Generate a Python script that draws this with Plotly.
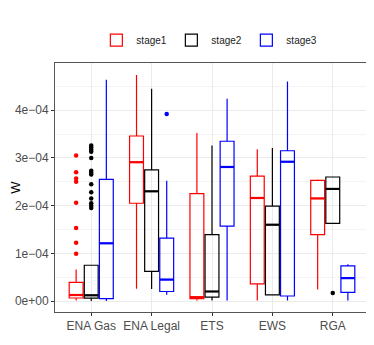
import plotly.graph_objects as go

# categories and stages
categories = ["ENA Gas", "ENA Legal", "ETS", "EWS", "RGA"]
stages = ["stage1", "stage2", "stage3"]
colors = {"stage1": "#FF0000", "stage2": "#000000", "stage3": "#0000FF"}

# box statistics per stage (values in W)
lower = {
    "stage1": [0.01e-4, 0.26e-4, 0.01e-4, 0.01e-4, 0.24e-4],
    "stage2": [0.0e-4, 0.25e-4, 0.01e-4, 0.12e-4, 1.63e-4],
    "stage3": [0.0e-4, 0.13e-4, 0.01e-4, 0.01e-4, 0.01e-4],
}
q1 = {
    "stage1": [0.063e-4, 2.05e-4, 0.05e-4, 0.36e-4, 1.39e-4],
    "stage2": [0.06e-4, 0.62e-4, 0.08e-4, 0.13e-4, 1.63e-4],
    "stage3": [0.05e-4, 0.20e-4, 1.57e-4, 0.105e-4, 0.18e-4],
}
median = {
    "stage1": [0.126e-4, 2.91e-4, 0.08e-4, 2.16e-4, 2.15e-4],
    "stage2": [0.12e-4, 2.30e-4, 0.20e-4, 1.60e-4, 2.35e-4],
    "stage3": [1.21e-4, 0.45e-4, 2.81e-4, 2.92e-4, 0.48e-4],
}
q3 = {
    "stage1": [0.39e-4, 3.46e-4, 2.25e-4, 2.62e-4, 2.53e-4],
    "stage2": [0.75e-4, 2.75e-4, 1.39e-4, 1.99e-4, 2.60e-4],
    "stage3": [2.55e-4, 1.32e-4, 3.35e-4, 3.15e-4, 0.735e-4],
}
upper = {
    "stage1": [0.66e-4, 4.74e-4, 3.52e-4, 3.18e-4, 2.55e-4],
    "stage2": [0.75e-4, 4.45e-4, 3.26e-4, 3.21e-4, 2.61e-4],
    "stage3": [4.64e-4, 2.52e-4, 4.24e-4, 4.60e-4, 0.77e-4],
}

# outliers: (category index, value)
outliers = {
    "stage1": [(0, v) for v in [3.05e-4, 2.70e-4, 2.57e-4, 2.50e-4, 2.06e-4, 1.53e-4, 1.22e-4, 0.99e-4]],
    "stage2": [(0, v) for v in [3.26e-4, 3.22e-4, 3.17e-4, 3.13e-4, 3.00e-4, 2.73e-4, 2.69e-4,
                                2.65e-4, 2.45e-4, 2.28e-4, 2.15e-4, 2.05e-4, 2.00e-4, 1.95e-4]]
              + [(4, 0.17e-4)],
    "stage3": [(1, 3.92e-4)],
}

y_ticks = [0, 1e-4, 2e-4, 3e-4, 4e-4]
y_tick_labels = ["0e+00", "1e\u221204", "2e\u221204", "3e\u221204", "4e\u221204"]

offsets = {"stage1": -0.25, "stage2": 0.0, "stage3": 0.25}
box_w = 0.23

fig = go.Figure()
for s in stages:
    xs = [i + 1 + offsets[s] for i in range(len(categories))]
    fig.add_trace(go.Box(
        x=xs, q1=q1[s], median=median[s], q3=q3[s],
        lowerfence=lower[s], upperfence=upper[s],
        width=box_w, whiskerwidth=0, name=s,
        line=dict(color=colors[s], width=1.2),
        fillcolor="rgba(255,255,255,0)",
        hoverinfo="skip",
    ))
    # thicker median bars, like ggplot
    mx, my = [], []
    for x, m in zip(xs, median[s]):
        mx += [x - box_w / 2, x + box_w / 2, None]
        my += [m, m, None]
    fig.add_trace(go.Scatter(
        x=mx, y=my, mode="lines", line=dict(color=colors[s], width=2.2),
        showlegend=False, hoverinfo="skip",
    ))
    pts = outliers[s]
    fig.add_trace(go.Scatter(
        x=[c + 1 + offsets[s] for c, _ in pts], y=[v for _, v in pts],
        mode="markers", marker=dict(color=colors[s], size=4.5),
        showlegend=False, hoverinfo="skip",
    ))

# page body has an 8px margin, so the figure is shifted by 8px
fig.update_layout(
    width=366, height=337,
    margin=dict(l=47, r=5, t=55, b=33),
    paper_bgcolor="white", plot_bgcolor="white",
    font=dict(family="Liberation Sans, Arial, sans-serif", color="#4d4d4d", size=12),
    boxmode="overlay",
    showlegend=True,
    legend=dict(orientation="h", x=0.49, xanchor="center", y=1.092, yanchor="middle",
                font=dict(size=10, color="#1a1a1a"), itemwidth=30,
                entrywidth=30, entrywidthmode="pixels"),
)
fig.update_xaxes(
    range=[0.4, 5.6], tickvals=[1, 2, 3, 4, 5], ticktext=categories,
    showgrid=True, gridcolor="#ebebeb", gridwidth=1, zeroline=False,
    ticks="outside", ticklen=3, tickcolor="#333333",
    showline=True, linecolor="#555555", mirror=True, linewidth=1,
    tickfont=dict(size=12, color="#4d4d4d"), automargin=False,
)
fig.update_yaxes(
    range=[-0.23e-4, 4.99e-4], tickvals=y_ticks, ticktext=y_tick_labels,
    showgrid=True, gridcolor="#ebebeb", gridwidth=1, zeroline=False,
    minor=dict(tickvals=[0.5e-4, 1.5e-4, 2.5e-4, 3.5e-4, 4.5e-4], showgrid=True,
               gridcolor="#f4f4f4", gridwidth=0.6),
    ticks="outside", ticklen=3, tickcolor="#333333",
    showline=True, linecolor="#555555", mirror=True, linewidth=1,
    title=dict(text="W", font=dict(size=13, color="#000000"), standoff=1),
    tickfont=dict(size=12, color="#4d4d4d"), automargin=False,
)

fig.write_html("out.html")
